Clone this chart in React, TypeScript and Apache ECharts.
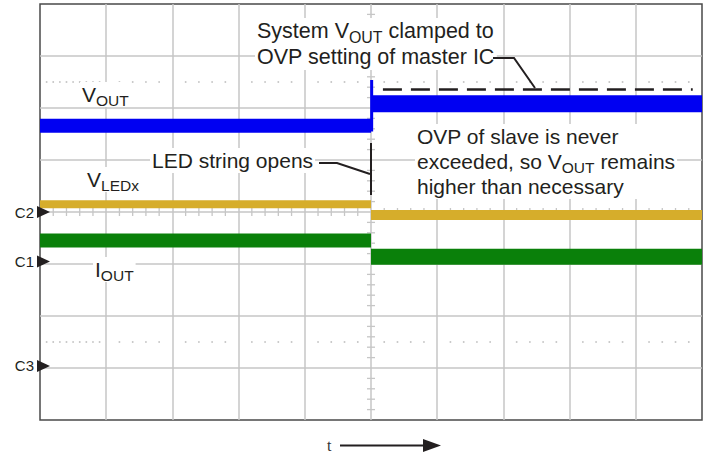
import React, { useEffect, useRef } from "react";
import * as echarts from "echarts";

// Oscilloscope graticule: 10 horizontal x 8 vertical divisions
const xDivisions = [0, 10];
const yDivisions = [0, 8];
const eventTime = 5.0; // LED string opens (div)
const timeSpan = [0, 10];

// Trace levels (div from bottom) before / after the event
const voutLevels = [5.66, 6.08];
const voutSpike = [5.55, 6.54];
const vledLevels = [4.15, 3.94];
const ioutLevels = [3.45, 3.14];

// Master OVP clamp level (dashed line)
const ovpClampLevel = 6.365;
const ovpClampSpan = [5.18, 9.86];

// Channel ground markers
const channelNames = ["C2", "C1", "C3"];
const channelLevels = [4.0, 3.05, 1.04];

// Dotted graticule rows
const dottedRows = [6.5, 1.5];

const FAMILY = '"Liberation Sans", Arial, Helvetica, sans-serif';
const INK = "#231f20";
const GRID = "#c6c6c6";

function labelText(x: number, y: number, text: string, size = 21, lineHeight = 25) {
  return {
    type: "text",
    x,
    y,
    z: 100,
    style: {
      text,
      font: `${size}px ${FAMILY}`,
      fill: INK,
      lineHeight,
      backgroundColor: "#fff",
      padding: [0, 2, 0, 2],
      rich: {
        s: { font: `${size * 0.74}px ${FAMILY}`, fill: INK, lineHeight: 10, padding: [12, 0, 0, 0] },
      },
    },
  };
}

export default function App() {
  const ref = useRef<HTMLDivElement>(null);
  useEffect(() => {
    if (!ref.current) return;
    const chart = echarts.init(ref.current, undefined, { renderer: "svg" });

    // minor tick positions on the centre cross (graticule decoration)
    const ticks: number[][] = [];
    for (let i = 1; i < 50; i++) if (i % 5 !== 0) ticks.push([0, i / 5]);
    for (let i = 1; i < 40; i++) if (i % 5 !== 0) ticks.push([1, i / 5]);
    const dots: number[][] = [];
    dottedRows.forEach((row) => {
      for (let c = 0; c < 10; c++) {
        const step = c === 0 ? 0.1 : 0.2;
        for (let d = step; d < 0.95; d += step) dots.push([c + d, row]);
      }
    });

    const mid = (xDivisions[0] + xDivisions[1]) / 2;
    const midY = (yDivisions[0] + yDivisions[1]) / 2;

    const band = (name: string, data: number[][], color: string, width: number) => ({
      name,
      type: "line",
      data,
      symbol: "none",
      silent: true,
      z: 5,
      lineStyle: { color, width, cap: "butt" },
    });

    chart.setOption({
      animation: false,
      grid: {
        left: 40,
        top: 4,
        width: 662,
        height: 416,
        show: true,
        borderColor: "#4a4a4a",
        borderWidth: 1.5,
        backgroundColor: "#fff",
      },
      xAxis: {
        type: "value",
        min: xDivisions[0],
        max: xDivisions[1],
        interval: 1,
        axisLabel: { show: false },
        axisTick: { show: false },
        axisLine: { show: false },
        splitLine: { show: true, showMinLine: false, showMaxLine: false, lineStyle: { color: GRID, width: 1.5 } },
      },
      yAxis: {
        type: "value",
        min: yDivisions[0],
        max: yDivisions[1],
        interval: 1,
        axisLabel: { show: false },
        axisTick: { show: false },
        axisLine: { show: false },
        splitLine: { show: true, showMinLine: false, showMaxLine: false, lineStyle: { color: GRID, width: 1.5 } },
      },
      series: [
        {
          type: "custom",
          silent: true,
          z: 1,
          data: ticks,
          renderItem: (params: any, api: any) => {
            const kind = api.value(0);
            const pos = api.value(1);
            if (kind === 0) {
              const p = api.coord([pos, midY]);
              return { type: "line", shape: { x1: p[0], y1: p[1] - 4, x2: p[0], y2: p[1] + 4 }, style: { stroke: GRID, lineWidth: 1.3 } };
            }
            const p = api.coord([mid, pos]);
            return { type: "line", shape: { x1: p[0] - 4, y1: p[1], x2: p[0] + 4, y2: p[1] }, style: { stroke: GRID, lineWidth: 1.3 } };
          },
        },
        {
          type: "custom",
          silent: true,
          z: 1,
          data: dots,
          renderItem: (params: any, api: any) => {
            const p = api.coord([api.value(0), api.value(1)]);
            return { type: "rect", shape: { x: p[0] - 0.8, y: p[1] - 0.8, width: 1.6, height: 1.6 }, style: { fill: "#bdbdbd" } };
          },
        },
        band("VOUT before", [[timeSpan[0], voutLevels[0]], [eventTime, voutLevels[0]]], "#0000f2", 14),
        band("VOUT after", [[eventTime, voutLevels[1]], [timeSpan[1], voutLevels[1]]], "#0000f2", 17),
        band("VOUT spike", [[eventTime + 0.01, voutSpike[0]], [eventTime + 0.01, voutSpike[1]]], "#0000f2", 3),
        band("VLED before", [[timeSpan[0], vledLevels[0]], [eventTime, vledLevels[0]]], "#d6ad2b", 8),
        band("VLED after", [[eventTime, vledLevels[1]], [timeSpan[1], vledLevels[1]]], "#d6ad2b", 10),
        band("IOUT before", [[timeSpan[0], ioutLevels[0]], [eventTime, ioutLevels[0]]], "#0a800a", 14),
        band("IOUT after", [[eventTime, ioutLevels[1]], [timeSpan[1], ioutLevels[1]]], "#0a800a", 16),
        {
          type: "line",
          data: [],
          silent: true,
          markLine: {
            silent: true,
            symbol: "none",
            label: { show: false },
            lineStyle: { color: INK, width: 2.5, type: [19, 9] },
            data: [[{ coord: [ovpClampSpan[0], ovpClampLevel] }, { coord: [ovpClampSpan[1], ovpClampLevel] }]],
          },
        },
        {
          type: "custom",
          clip: false,
          silent: true,
          z: 10,
          data: channelLevels.map((v, i) => ({ value: [xDivisions[0], v], name: channelNames[i] })),
          renderItem: (params: any, api: any) => {
            const p = api.coord([api.value(0), api.value(1)]);
            const name = channelNames[params.dataIndex];
            return {
              type: "group",
              children: [
                {
                  type: "polygon",
                  shape: { points: [[p[0] - 3, p[1] - 6], [p[0] + 10, p[1]], [p[0] - 3, p[1] + 6]] },
                  style: { fill: INK },
                },
                {
                  type: "text",
                  x: p[0] - 6,
                  y: p[1],
                  style: { text: name, font: `15px ${FAMILY}`, fill: INK, align: "right", verticalAlign: "middle" },
                },
              ],
            };
          },
        },
      ],
      graphic: [
        labelText(255, 18, "System V{s|OUT} clamped to\nOVP setting of master IC", 21.5, 26),
        labelText(80, 82, "V{s|OUT}"),
        labelText(150, 148, "LED string opens"),
        labelText(85, 167, "V{s|LEDx}"),
        labelText(93, 257, "I{s|OUT}"),
        labelText(415, 124, "OVP of slave is never\nexceeded, so V{s|OUT} remains\nhigher than necessary"),
        { type: "polyline", z: 100, shape: { points: [[493, 58], [514, 58], [535, 88]] }, style: { stroke: INK, lineWidth: 2, fill: null } },
        { type: "polyline", z: 100, shape: { points: [[319, 163], [337, 163], [370, 174]] }, style: { stroke: INK, lineWidth: 2, fill: null } },
        { type: "line", z: 100, shape: { x1: 371, y1: 143, x2: 371, y2: 195 }, style: { stroke: INK, lineWidth: 2 } },
        {
          type: "text",
          x: 327,
          y: 437,
          style: { text: "t", font: '16px "Liberation Serif", "Times New Roman", serif', fill: "#333" },
        },
        { type: "line", shape: { x1: 340, y1: 445.5, x2: 425, y2: 445.5 }, style: { stroke: INK, lineWidth: 2 } },
        { type: "polygon", shape: { points: [[423, 439], [441, 445.5], [423, 452]] }, style: { fill: INK } },
      ],
    });
    return () => chart.dispose();
  }, []);
  return <div ref={ref} style={{ position: "fixed", left: 0, top: 0, width: 707, height: 459, background: "#fff" }} />;
}
